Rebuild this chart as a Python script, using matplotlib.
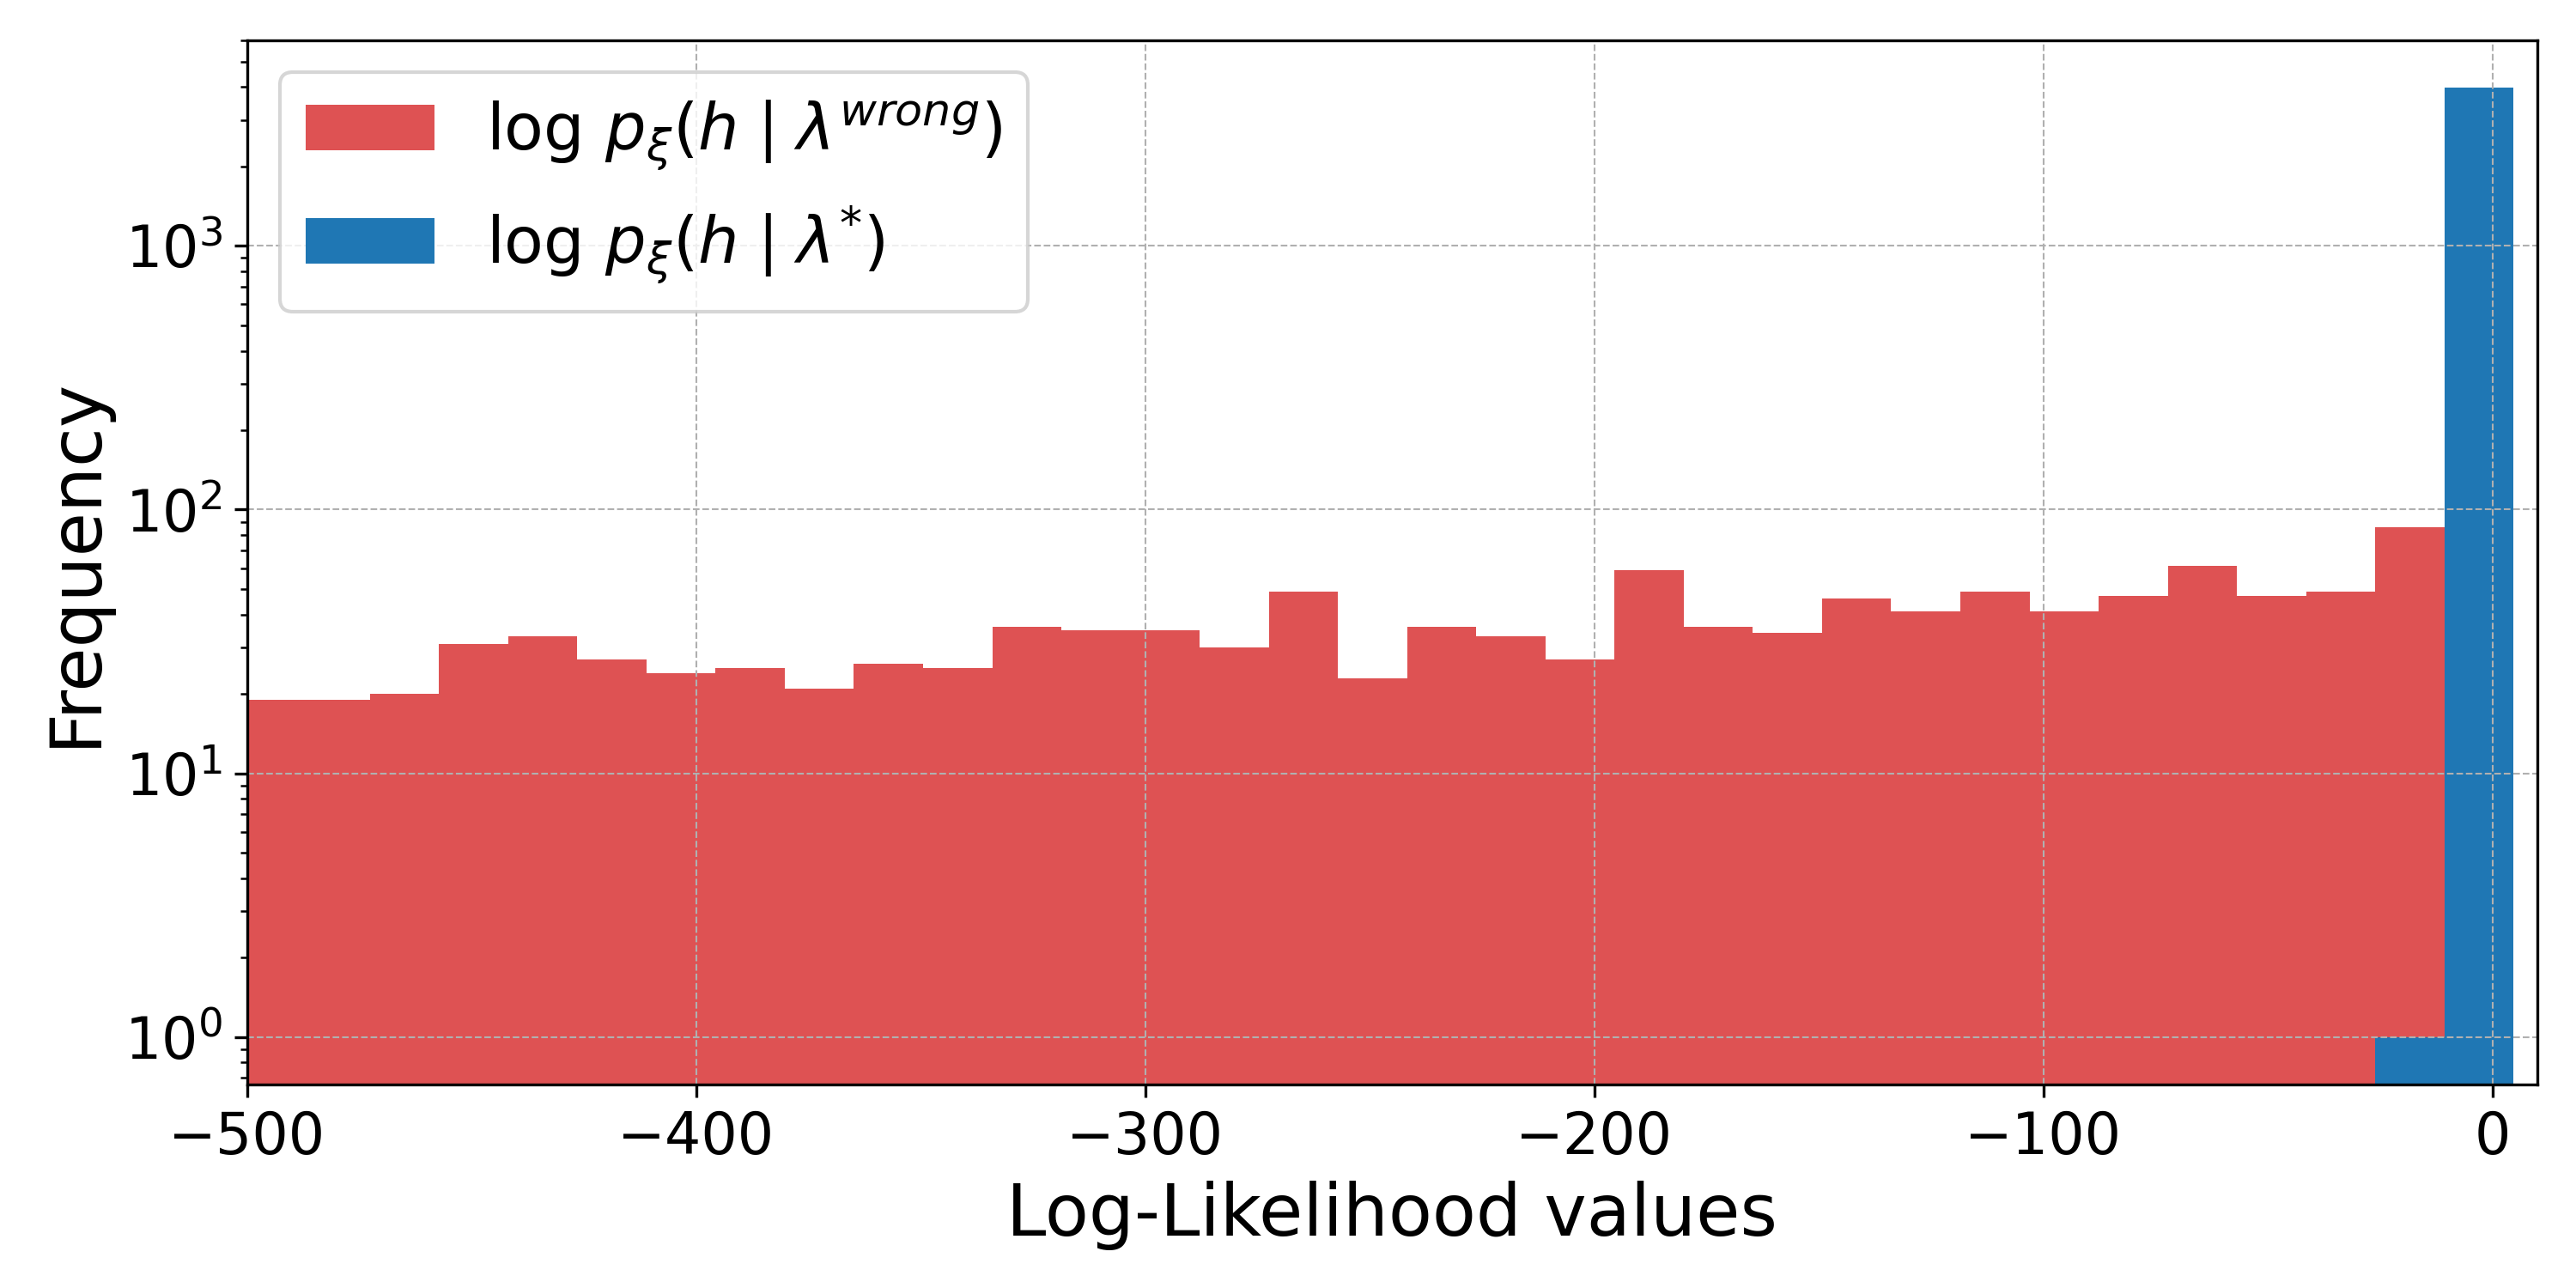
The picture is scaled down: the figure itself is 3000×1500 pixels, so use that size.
import numpy as np
import matplotlib
matplotlib.use("Agg")
import matplotlib.pyplot as plt

# shared histogram bin edges (33 bins of ~15.4 wide, last edge just above 0)
bin_edges = np.linspace(-503.5, 4.7, 34)

# counts per bin
wrong_counts = [19, 19, 20, 31, 33, 27, 24, 25, 21, 26, 25, 36, 35, 35, 30, 49,
                23, 36, 33, 27, 59, 36, 34, 46, 41, 49, 41, 47, 61, 47, 49, 86, 0]
true_counts = [0, 0, 0, 0, 0, 0, 0, 0, 0, 0, 0, 0, 0, 0, 0, 0,
               0, 0, 0, 0, 0, 0, 0, 0, 0, 0, 0, 0, 0, 0, 0, 1, 3990]

labels = [r'$\log\, p_\xi(h \mid \lambda^{wrong})$',
          r'$\log\, p_\xi(h \mid \lambda^{*})$']

centers = 0.5 * (bin_edges[:-1] + bin_edges[1:])

fig, ax = plt.subplots(figsize=(10, 5), dpi=300)
fig.subplots_adjust(left=0.096, right=0.985, top=0.969, bottom=0.158)

ax.hist(centers, bins=bin_edges, weights=wrong_counts, color='tab:red',
        alpha=0.8, label=labels[0], log=True)
ax.hist(centers, bins=bin_edges, weights=true_counts, color='tab:blue',
        label=labels[1], log=True)

ax.set_xlim(-500, 10)
ax.set_ylim(10 ** -0.18, 10 ** 3.781)
ax.set_xlabel('Log-Likelihood values', fontsize=20)
ax.set_ylabel('Frequency', fontsize=20)
ax.tick_params(axis='both', labelsize=16)
ax.grid(True, which='major', linestyle='--', linewidth=0.5)
ax.legend(loc='upper left', fontsize=18)

fig.savefig('out.png', dpi=300)
